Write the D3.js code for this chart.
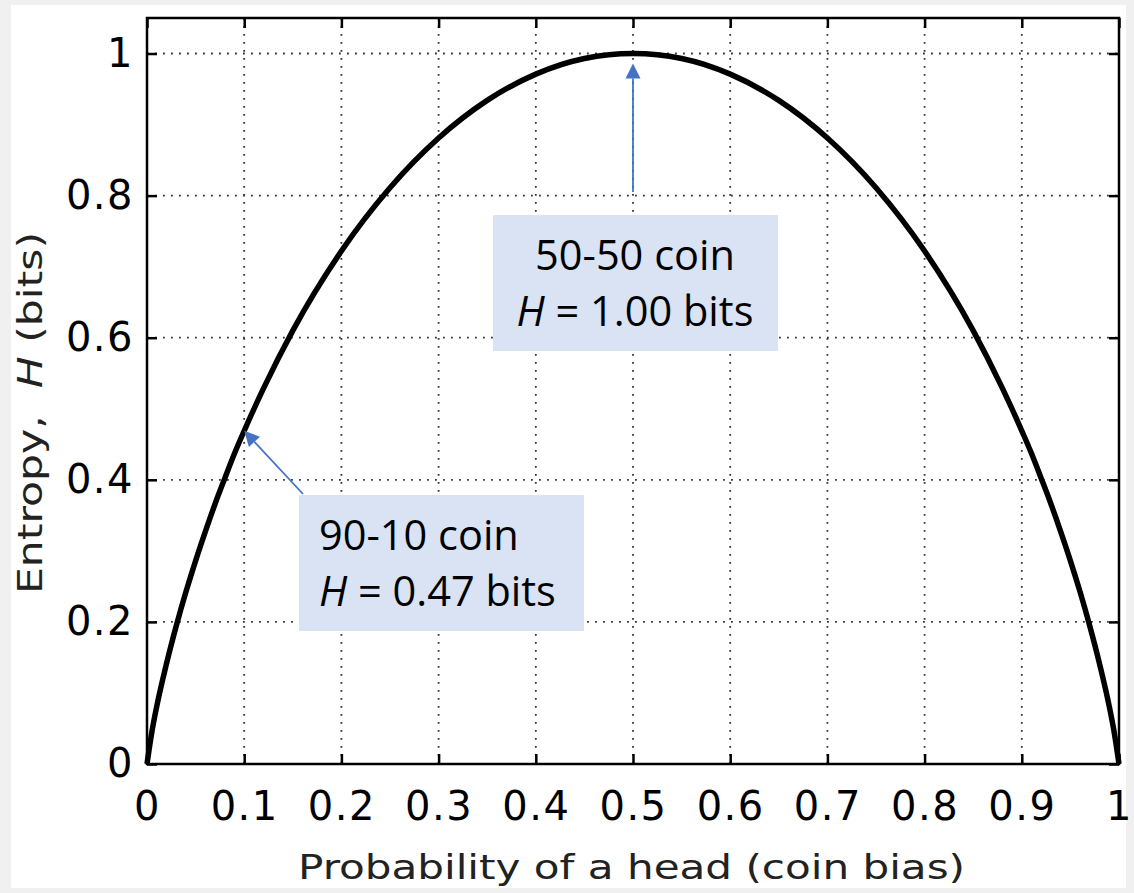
<!DOCTYPE html>
<html><head><meta charset="utf-8">
<script src="https://cdn.jsdelivr.net/npm/d3@7"></script>
<style>html,body{margin:0;padding:0;background:#f0f0f0;} svg{display:block}</style>
</head><body><svg id="c" width="1134" height="893"></svg>
<script>
// ---- data ----
const probability = [0, 0.005, 0.01, 0.02, 0.03, 0.04, 0.05, 0.06, 0.07, 0.08, 0.09, 0.10, 0.12, 0.15, 0.20, 0.25, 0.30, 0.35, 0.40, 0.45, 0.50,
  0.55, 0.60, 0.65, 0.70, 0.75, 0.80, 0.85, 0.88, 0.90, 0.91, 0.92, 0.93, 0.94, 0.95, 0.96, 0.97, 0.98, 0.99, 0.995, 1];
const entropy = [0, 0.045, 0.081, 0.141, 0.194, 0.242, 0.286, 0.327, 0.366, 0.402, 0.437, 0.469, 0.529, 0.610, 0.722, 0.811, 0.881, 0.934, 0.971, 0.993, 1.000,
  0.993, 0.971, 0.934, 0.881, 0.811, 0.722, 0.610, 0.529, 0.469, 0.437, 0.402, 0.366, 0.327, 0.286, 0.242, 0.194, 0.141, 0.081, 0.045, 0];
const xTicks = [0, 0.1, 0.2, 0.3, 0.4, 0.5, 0.6, 0.7, 0.8, 0.9, 1];
const xTickLabels = ["0", "0.1", "0.2", "0.3", "0.4", "0.5", "0.6", "0.7", "0.8", "0.9", "1"];
const yTicks = [0, 0.2, 0.4, 0.6, 0.8, 1];
const yTickLabels = ["0", "0.2", "0.4", "0.6", "0.8", "1"];
const xLabel = "Probability of a head (coin bias)";
const annotationTitles = ["50-50 coin", "90-10 coin"];
const annotationBits = ["1.00", "0.47"];
const annotationP = [0.5, 0.1];
const annotationH = [1.0, 0.469];

// ---- layout ----
const plot = {left: 147, right: 1119, top: 18, bottom: 764};
const svg = d3.select("#c");

svg.append("rect").attr("x", 11).attr("y", 5).attr("width", 1115).attr("height", 883).attr("fill", "#ffffff");

const x = d3.scaleLinear().domain([0, 1]).range([plot.left, plot.right]);
const y = d3.scaleLinear().domain([0, 1.05]).range([plot.bottom, plot.top]);

// grid
const grid = svg.append("g").attr("stroke", "#333").attr("stroke-width", 1.8).attr("stroke-dasharray", "1.8,6.2").attr("stroke-linecap", "butt");
grid.selectAll("line.gx").data(xTicks.filter(d => d > 0 && d < 1)).join("line")
  .attr("x1", d => x(d)).attr("x2", d => x(d)).attr("y1", plot.top).attr("y2", plot.bottom);
grid.selectAll("line.gy").data(yTicks.filter(d => d > 0)).join("line")
  .attr("y1", d => y(d)).attr("y2", d => y(d)).attr("x1", plot.left).attr("x2", plot.right);

// axes with inward ticks on all four sides
const tickLen = 10;
const fmtX = (d, i) => xTickLabels[i];
const fmtY = (d, i) => yTickLabels[i];
const axB = svg.append("g").attr("transform", `translate(0,${plot.bottom})`)
  .call(d3.axisBottom(x).tickValues(xTicks).tickFormat(fmtX).tickSizeInner(-tickLen).tickSizeOuter(0).tickPadding(28));
const axT = svg.append("g").attr("transform", `translate(0,${plot.top})`)
  .call(d3.axisTop(x).tickValues(xTicks).tickFormat("").tickSizeInner(-tickLen).tickSizeOuter(0));
const axL = svg.append("g").attr("transform", `translate(${plot.left},0)`)
  .call(d3.axisLeft(y).tickValues(yTicks).tickFormat(fmtY).tickSizeInner(-tickLen).tickSizeOuter(0).tickPadding(13));
const axR = svg.append("g").attr("transform", `translate(${plot.right},0)`)
  .call(d3.axisRight(y).tickValues(yTicks).tickFormat("").tickSizeInner(-tickLen).tickSizeOuter(0));
[axB, axT, axL, axR].forEach(a => {
  a.select(".domain").remove();
  a.selectAll(".tick line").attr("stroke", "#000").attr("stroke-width", 2.5);
  a.selectAll("text").attr("fill", "#000").attr("font-family", "DejaVu Sans").attr("font-size", 40).attr("letter-spacing", 1.5);
});
axB.selectAll("text").attr("dy", "0.71em");

// frame
svg.append("rect").attr("x", plot.left).attr("y", plot.top)
  .attr("width", plot.right - plot.left).attr("height", plot.bottom - plot.top)
  .attr("fill", "none").attr("stroke", "#000").attr("stroke-width", 2.5);

// curve
const pts = probability.map((p, i) => [p, entropy[i]]);
svg.append("path").datum(pts)
  .attr("d", d3.line().x(d => x(d[0])).y(d => y(d[1])).curve(d3.curveMonotoneX))
  .attr("fill", "none").attr("stroke", "#000").attr("stroke-width", 5.5).attr("stroke-linejoin", "round");

// axis labels
svg.append("text").attr("x", (298 + 965) / 2).attr("y", 879).attr("text-anchor", "middle")
  .attr("font-family", "DejaVu Sans").attr("font-size", 34)
  .attr("textLength", 667).attr("lengthAdjust", "spacingAndGlyphs")
  .attr("fill", "#222").text(xLabel);

const yl = svg.append("text").attr("transform", "translate(42,413) rotate(-90)")
  .attr("text-anchor", "middle").attr("font-family", "DejaVu Sans").attr("font-size", 34).attr("fill", "#222")
  .attr("textLength", 362).attr("lengthAdjust", "spacingAndGlyphs");
yl.append("tspan").text("Entropy,\u00a0\u00a0");
yl.append("tspan").attr("font-style", "italic").text("H");
yl.append("tspan").text(" (bits)");

// annotations
const boxes = [
  {x: 493, y: 215, w: 285, h: 136, align: "middle", tx: 635, sx: null, sy: 192, tipDy: 10},
  {x: 299, y: 495, w: 285, h: 136, align: "start", tx: 319, sx: 303, sy: 494, tipDy: 0}
];
const blue = "#4472c4";
boxes.forEach((b, i) => {
  svg.append("rect").attr("x", b.x).attr("y", b.y).attr("width", b.w).attr("height", b.h).attr("fill", "#dae3f3");
  svg.append("text").attr("x", b.tx).attr("y", b.y + 55).attr("text-anchor", b.align)
    .attr("font-family", "Open Sans").attr("font-size", 41.5).attr("fill", "#000").text(annotationTitles[i]);
  const t2 = svg.append("text").attr("x", b.tx).attr("y", b.y + 111).attr("text-anchor", b.align)
    .attr("font-family", "Open Sans").attr("font-size", 41.5).attr("fill", "#000");
  t2.append("tspan").attr("font-style", "italic").text("H");
  t2.append("tspan").text(" = " + annotationBits[i] + " bits");

  const tipX = x(annotationP[i]), tipY = y(annotationH[i]) + b.tipDy;
  const sx = b.sx === null ? tipX : b.sx, sy = b.sy;
  const dx = tipX - sx, dy = tipY - sy, len = Math.hypot(dx, dy);
  const ux = dx / len, uy = dy / len;
  const hl = 15, hw = 7.5;
  const bx = tipX - ux * hl, by = tipY - uy * hl;
  svg.append("line").attr("x1", sx).attr("y1", sy).attr("x2", bx).attr("y2", by)
    .attr("stroke", blue).attr("stroke-width", 1.8);
  svg.append("path").attr("d", `M${tipX},${tipY}L${bx - uy * hw},${by + ux * hw}L${bx + uy * hw},${by - ux * hw}Z`)
    .attr("fill", blue);
});
</script>
</body></html>
